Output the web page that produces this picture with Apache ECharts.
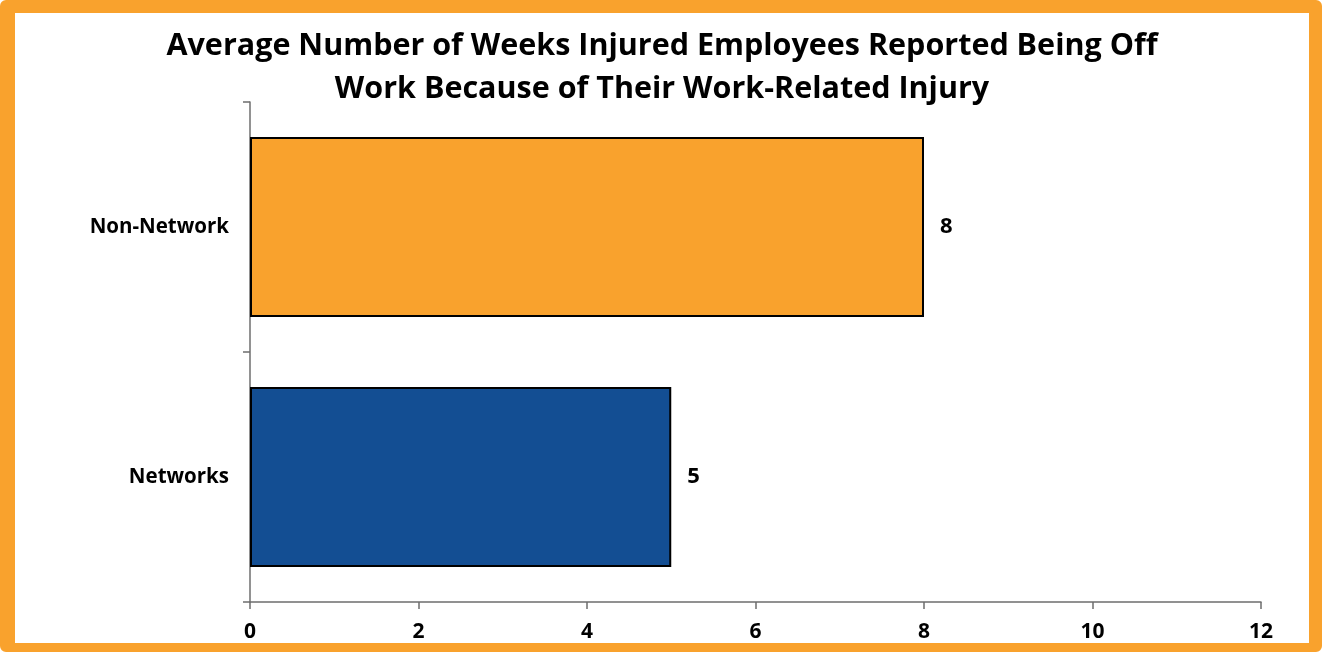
<!DOCTYPE html>
<html>
<head>
<meta charset="utf-8">
<script src="https://cdn.jsdelivr.net/npm/echarts@6/dist/echarts.min.js"></script>
<style>
  html, body { margin: 0; padding: 0; background: #ffffff; }
  #frame {
    width: 1322px; height: 652px; box-sizing: border-box;
    border-style: solid; border-color: #f9a22d;
    border-width: 13px 13px 9px 15px;
    border-radius: 6px;
    background: #ffffff;
  }
  #chart { width: 100%; height: 100%; }
</style>
</head>
<body>
<div id="frame"><div id="chart"></div></div>
<script>
  // data
  var categories = ['Networks', 'Non-Network'];
  var weeksOff = [5, 8];
  var barColors = ['#134e93', '#f9a22d'];
  var xTicks = [0, 2, 4, 6, 8, 10, 12];

  var font = '"Open Sans", "Noto Sans", sans-serif';
  var chart = echarts.init(document.getElementById('chart'));

  var option = {
    animation: false,
    title: {
      text: 'Average Number of Weeks Injured Employees Reported Being Off\nWork Because of Their Work-Related Injury',
      left: 'center',
      top: 7,
      textStyle: {
        fontFamily: font,
        fontWeight: 'bold',
        fontSize: 30.5,
        lineHeight: 43,
        color: '#000'
      }
    },
    grid: {
      left: 235,
      right: 48,
      top: 89,
      bottom: 41
    },
    xAxis: {
      type: 'value',
      min: xTicks[0],
      max: xTicks[xTicks.length - 1],
      interval: 2,
      splitLine: { show: false },
      axisLine: { show: true, lineStyle: { color: '#6e6e6e', width: 1.5 } },
      axisTick: { show: true, length: 7, lineStyle: { color: '#6e6e6e', width: 1.5 } },
      axisLabel: {
        margin: 20,
        fontFamily: font,
        fontWeight: 'bold',
        fontSize: 21,
        color: '#000'
      }
    },
    yAxis: {
      type: 'category',
      data: categories,
      axisLine: { show: true, lineStyle: { color: '#6e6e6e', width: 1.5 } },
      axisTick: { show: true, length: 7, lineStyle: { color: '#6e6e6e', width: 1.5 } },
      axisLabel: {
        margin: 21,
        fontFamily: font,
        fontWeight: 'bold',
        fontSize: 20.5,
        color: '#000'
      }
    },
    series: [{
      type: 'bar',
      barWidth: '72%',
      data: weeksOff.map(function (v, i) {
        return { value: v, itemStyle: { color: barColors[i] } };
      }),
      itemStyle: { borderColor: '#000', borderWidth: 2 },
      label: {
        show: true,
        position: 'right',
        distance: 16,
        fontFamily: font,
        fontWeight: 'bold',
        fontSize: 22,
        color: '#000'
      }
    }]
  };

  chart.setOption(option);
</script>
</body>
</html>
